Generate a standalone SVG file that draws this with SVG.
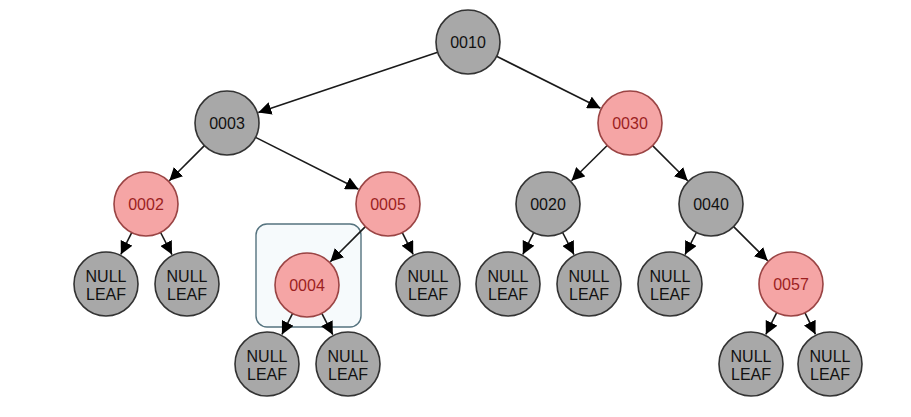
<svg xmlns="http://www.w3.org/2000/svg" width="911" height="417" viewBox="0 0 911 417">
<style>
.g{fill:#a8a8a8;stroke:#333;stroke-width:1.6}
.r{fill:#f5a5a5;stroke:#9a4444;stroke-width:1.6}
.t{font-family:"Liberation Sans",Arial,sans-serif;font-size:16px;text-anchor:middle;dominant-baseline:central;fill:#111}
.tr{font-family:"Liberation Sans",Arial,sans-serif;font-size:16px;text-anchor:middle;dominant-baseline:central;fill:#9c1f1f}
.e{stroke:#1a1a1a;stroke-width:1.6;fill:none;marker-end:url(#ah)}
</style>
<defs>
<marker id="ah" markerUnits="userSpaceOnUse" markerWidth="13" markerHeight="13" refX="13" refY="6.5" orient="auto" viewBox="0 0 13 13">
<path d="M0,0 L13,6.5 L0,13 z" fill="#000"/>
</marker>
</defs>
<rect width="911" height="417" fill="#fff"/>
<g id="highlight">
<rect x="256" y="224" width="105" height="103" rx="11" fill="#f6fafc" stroke="#55737f" stroke-width="1.4"/>
</g>
<g id="connectors">
<line class="e" x1="437.7" y1="52.2" x2="258.3" y2="112.5"/>
<line class="e" x1="496.6" y1="56.3" x2="600.5" y2="108.2"/>
<line class="e" x1="204.4" y1="145.6" x2="169.3" y2="180.7"/>
<line class="e" x1="255.6" y1="137.4" x2="358.5" y2="189.2"/>
<line class="e" x1="607.2" y1="145.5" x2="571.5" y2="180.8"/>
<line class="e" x1="652.6" y1="145.6" x2="687.7" y2="180.7"/>
<line class="e" x1="131.7" y1="232.6" x2="120.8" y2="254.5"/>
<line class="e" x1="160.6" y1="232.5" x2="172" y2="254.6"/>
<line class="e" x1="365.4" y1="226.6" x2="330.3" y2="261.7"/>
<line class="e" x1="402.3" y1="232.6" x2="413.2" y2="254.5"/>
<line class="e" x1="533.7" y1="232.6" x2="522.8" y2="254.5"/>
<line class="e" x1="562.6" y1="232.5" x2="574" y2="254.6"/>
<line class="e" x1="696.4" y1="232.5" x2="685" y2="254.6"/>
<line class="e" x1="733.6" y1="226.6" x2="767.7" y2="260.7"/>
<line class="e" x1="292.5" y1="313.6" x2="281.9" y2="334.5"/>
<line class="e" x1="321.8" y1="313.4" x2="332.8" y2="334.7"/>
<line class="e" x1="776.7" y1="312.6" x2="765.8" y2="334.5"/>
<line class="e" x1="805" y1="312.8" x2="815.5" y2="334.3"/>
</g>
<g id="n0010"><circle class="g" cx="468" cy="42" r="32"/><text class="t" x="468" y="42">0010</text></g>
<g id="n0003"><circle class="g" cx="227" cy="123" r="32"/><text class="t" x="227" y="123">0003</text></g>
<g id="n0030"><circle class="r" cx="630" cy="123" r="32"/><text class="tr" x="630" y="123">0030</text></g>
<g id="n0002"><circle class="r" cx="146" cy="204" r="32"/><text class="tr" x="146" y="204">0002</text></g>
<g id="n0005"><circle class="r" cx="388" cy="204" r="32"/><text class="tr" x="388" y="204">0005</text></g>
<g id="n0020"><circle class="g" cx="548" cy="204" r="32"/><text class="t" x="548" y="204">0020</text></g>
<g id="n0040"><circle class="g" cx="711" cy="204" r="32"/><text class="t" x="711" y="204">0040</text></g>
<g id="n0004"><circle class="r" cx="307" cy="285" r="32"/><text class="tr" x="307" y="285">0004</text></g>
<g id="n0057"><circle class="r" cx="791" cy="284" r="32"/><text class="tr" x="791" y="284">0057</text></g>
<g id="leaf1"><circle class="g" cx="106" cy="284" r="32"/><text class="t" x="106" y="276">NULL</text><text class="t" x="106" y="294">LEAF</text></g>
<g id="leaf2"><circle class="g" cx="187" cy="284" r="32"/><text class="t" x="187" y="276">NULL</text><text class="t" x="187" y="294">LEAF</text></g>
<g id="leaf3"><circle class="g" cx="428" cy="284" r="32"/><text class="t" x="428" y="276">NULL</text><text class="t" x="428" y="294">LEAF</text></g>
<g id="leaf4"><circle class="g" cx="508" cy="284" r="32"/><text class="t" x="508" y="276">NULL</text><text class="t" x="508" y="294">LEAF</text></g>
<g id="leaf5"><circle class="g" cx="589" cy="284" r="32"/><text class="t" x="589" y="276">NULL</text><text class="t" x="589" y="294">LEAF</text></g>
<g id="leaf6"><circle class="g" cx="670" cy="284" r="32"/><text class="t" x="670" y="276">NULL</text><text class="t" x="670" y="294">LEAF</text></g>
<g id="leaf7"><circle class="g" cx="267" cy="364" r="32"/><text class="t" x="267" y="356">NULL</text><text class="t" x="267" y="374">LEAF</text></g>
<g id="leaf8"><circle class="g" cx="348" cy="364" r="32"/><text class="t" x="348" y="356">NULL</text><text class="t" x="348" y="374">LEAF</text></g>
<g id="leaf9"><circle class="g" cx="751" cy="364" r="32"/><text class="t" x="751" y="356">NULL</text><text class="t" x="751" y="374">LEAF</text></g>
<g id="leaf10"><circle class="g" cx="830" cy="364" r="32"/><text class="t" x="830" y="356">NULL</text><text class="t" x="830" y="374">LEAF</text></g>
</svg>
